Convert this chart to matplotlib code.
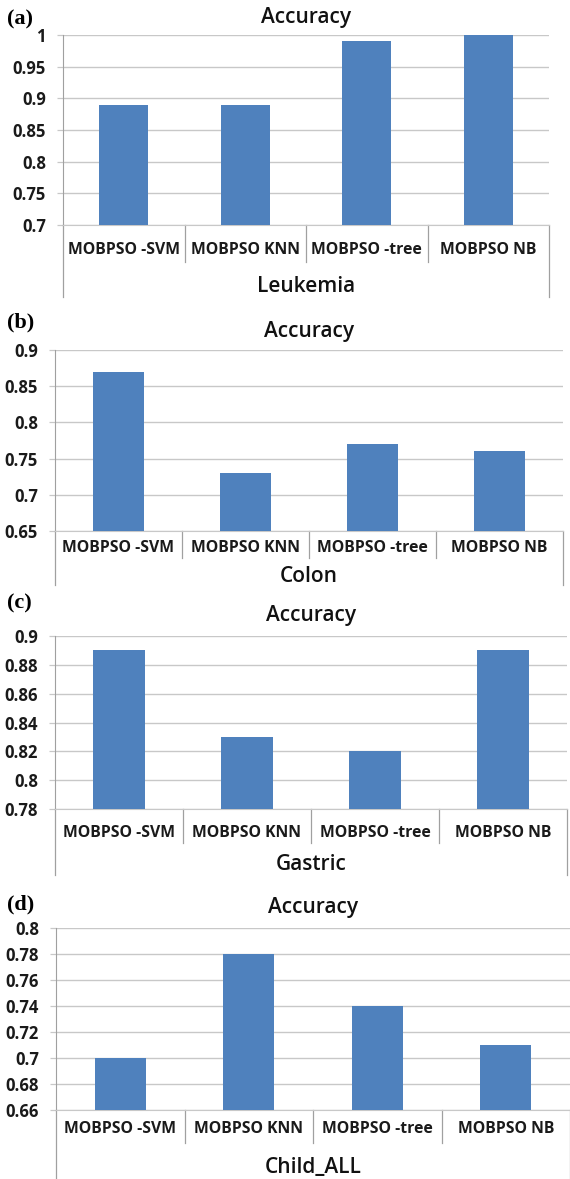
import matplotlib
matplotlib.use("Agg")
import matplotlib.pyplot as plt
import numpy as np

methods = ["MOBPSO -SVM", "MOBPSO KNN", "MOBPSO -tree", "MOBPSO NB"]
datasets = ["Leukemia", "Colon", "Gastric", "Child_ALL"]
panel_tags = ["(a)", "(b)", "(c)", "(d)"]

acc_leukemia = [0.89, 0.89, 0.99, 1.00]
acc_colon = [0.87, 0.73, 0.77, 0.76]
acc_gastric = [0.89, 0.83, 0.82, 0.89]
acc_child = [0.70, 0.78, 0.74, 0.71]

yticks_leukemia = [0.7, 0.75, 0.8, 0.85, 0.9, 0.95, 1.0]
yticks_colon = [0.65, 0.7, 0.75, 0.8, 0.85, 0.9]
yticks_gastric = [0.78, 0.8, 0.82, 0.84, 0.86, 0.88, 0.9]
yticks_child = [0.66, 0.68, 0.7, 0.72, 0.74, 0.76, 0.78, 0.8]

W, H = 570, 1179
BAR = "#4F81BD"
GRID = "#C8C8C8"
AXC = "#A0A0A0"

# pixel layout of each panel: left, right, top, bottom, labels, sep end, group label, outer end, title, tag
layout = [
    (63, 549, 35, 225, 250, 262, 286, 297, 17, 19),
    (55, 563, 350, 531, 548, 558, 577, 585, 331, 322),
    (55, 567, 636, 809, 833, 843, 864, 875, 616, 603),
    (56, 570, 928, 1110, 1129, 1143, 1167, 1178, 908, 904),
]


def fmt(v):
    s = ("%.2f" % v).rstrip("0").rstrip(".")
    return s


def draw_panel(fig, values, yticks, name, tag, lay):
    left, right, top, bottom, lab_y, sep_y, grp_y, out_y, tit_y, tag_y = lay
    ax = fig.add_axes([left / W, 1 - bottom / H, (right - left) / W, (bottom - top) / H])
    x = np.arange(len(methods))
    ax.bar(x, values, width=0.4, color=BAR, zorder=3)
    ax.set_xlim(-0.5, len(methods) - 0.5)
    ax.set_ylim(yticks[0], yticks[-1])
    ax.set_yticks(yticks)
    ax.set_yticklabels([fmt(v) for v in yticks], fontfamily="Open Sans",
                       fontweight="bold", fontsize=12, color="#1a1a1a")
    ax.set_xticks([])
    ax.tick_params(axis="y", length=4.3, width=0.9, color=GRID, pad=8)
    ax.yaxis.grid(True, color=GRID, linewidth=1.0, zorder=0)
    for side in ["top", "right"]:
        ax.spines[side].set_visible(False)
    ax.spines["left"].set_color(AXC)
    ax.spines["bottom"].set_color(GRID)

    def yfrac(py):
        return (bottom - py) / (bottom - top)

    tr = ax.get_xaxis_transform()
    for i, m in enumerate(methods):
        ax.text(i, yfrac(lab_y), m, transform=tr, ha="center", va="center",
                fontfamily="Open Sans", fontweight="bold", fontsize=11.3, color="#1a1a1a")
    for b in np.arange(-0.5, len(methods), 1.0):
        end = out_y if b in (-0.5, len(methods) - 0.5) else sep_y
        ax.plot([b, b], [0, yfrac(end)], transform=tr, color=AXC, lw=0.9, clip_on=False)
    ax.text(0.5 * (len(methods) - 1), yfrac(grp_y), name, transform=tr, ha="center",
            va="center", fontfamily="Open Sans", fontweight="semibold", fontsize=15,
            color="#111111")
    ax.text(0.5 * (len(methods) - 1), yfrac(tit_y), "Accuracy", transform=tr, ha="center",
            va="center", fontfamily="Open Sans", fontweight="semibold", fontsize=15,
            color="#111111")
    fig.text(7 / W, 1 - tag_y / H, tag, ha="left", va="center",
             fontfamily="Liberation Serif", fontweight="bold", fontsize=16)


fig = plt.figure(figsize=(W / 100, H / 100), dpi=100)
all_vals = [acc_leukemia, acc_colon, acc_gastric, acc_child]
all_ticks = [yticks_leukemia, yticks_colon, yticks_gastric, yticks_child]
for vals, ticks, name, tag, lay in zip(all_vals, all_ticks, datasets, panel_tags, layout):
    draw_panel(fig, vals, ticks, name, tag, lay)

fig.savefig("out.png", dpi=100, facecolor="white")
